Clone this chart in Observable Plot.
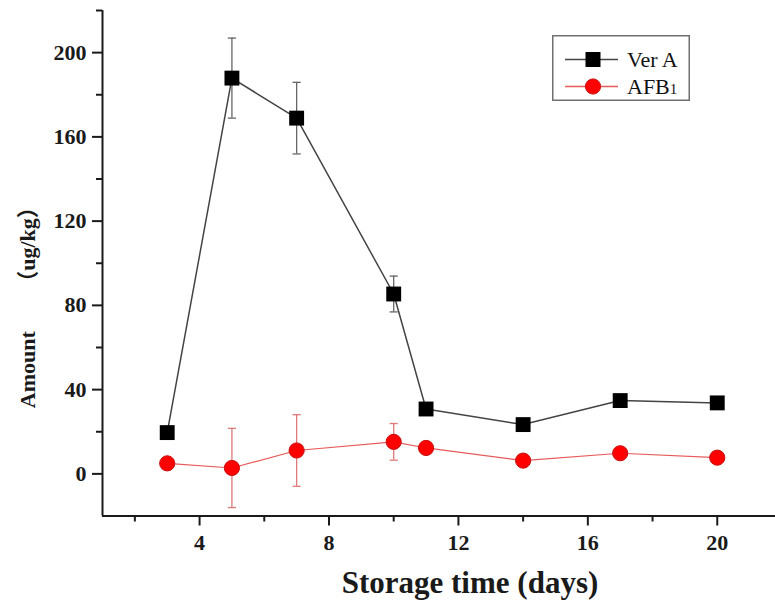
<!DOCTYPE html>
<html>
<head>
<meta charset="utf-8">
<script src="https://cdn.jsdelivr.net/npm/d3@7"></script>
<script src="https://cdn.jsdelivr.net/npm/@observablehq/plot@0.6"></script>
<style>
  body { margin: 0; background: #fff; }
  #wrap { position: relative; width: 775px; height: 605px; }
  #legend { position: absolute; left: 552px; top: 35px; }
</style>
</head>
<body>
<div id="wrap"></div>
<script>
// ---- data ----
const days = [3, 5, 7, 10, 11, 14, 17, 20];
const verA = [19.6, 187.9, 168.9, 85.4, 30.8, 23.4, 34.8, 33.7];
const verAErr = [0, 19, 17, 8.5, 0, 0, 0, 0];
const afb1 = [5.0, 2.8, 11.1, 15.2, 12.3, 6.3, 9.8, 7.7];
const afb1Err = [0, 18.8, 17, 8.7, 0, 0, 0, 0];
const seriesNames = ["Ver A", "AFB1"];
const xTicks = [4, 8, 12, 16, 20];
const xMinorTicks = [2, 6, 10, 14, 18];
const yTicks = [0, 40, 80, 120, 160, 200];
const yMinorTicks = [20, 60, 100, 140, 180, 220];
const xTitle = "Storage time (days)";
const yTitle = "Amount \u3000\u3000（ug/kg）";

// ---- build tables ----
const rowsA = days.map((d, i) => ({day: d, value: verA[i], err: verAErr[i]}));
const rowsB = days.map((d, i) => ({day: d, value: afb1[i], err: afb1Err[i]}));
const errA = rowsA.filter(r => r.err > 0);
const errB = rowsB.filter(r => r.err > 0);

const capSymbol = {
  draw(context, size) {
    const w = Math.sqrt(size);
    context.moveTo(-w, 0);
    context.lineTo(w, 0);
  }
};

const font = "'Liberation Serif', 'Times New Roman', 'Noto Sans CJK SC', serif";
const axisColor = "#1a1a1a";
const grayBar = "#666";
const redBar = "#e07878";

const chart = Plot.plot({
  width: 775,
  height: 605,
  marginLeft: 102,
  marginRight: 0,
  marginTop: 10,
  marginBottom: 89.5,
  x: {domain: [1, 21.8]},
  y: {domain: [-20, 220]},
  style: {fontFamily: font, background: "white", color: axisColor},
  marks: [
    // axes
    Plot.axisY(yTicks, {tickSize: 10, tickPadding: 6, strokeWidth: 2, fontSize: 22, fontWeight: "bold", label: null, tickFormat: d => String(d)}),
    Plot.axisY(yMinorTicks, {tickSize: 6, strokeWidth: 2, label: null, tickFormat: () => ""}),
    Plot.axisX(xTicks, {tickSize: 10, tickPadding: 8, strokeWidth: 2, fontSize: 22, fontWeight: "bold", label: null, tickFormat: d => String(d)}),
    Plot.axisX(xMinorTicks, {tickSize: 6, strokeWidth: 2, label: null, tickFormat: () => ""}),
    Plot.ruleX([1], {stroke: axisColor, strokeWidth: 2}),
    Plot.ruleY([-20], {stroke: axisColor, strokeWidth: 2}),
    // titles
    Plot.text([xTitle], {frameAnchor: "bottom", text: d => d, lineAnchor: "bottom", dy: 77, dx: 31, fontSize: 31, fontWeight: "bold", fill: axisColor}),
    Plot.text([yTitle], {frameAnchor: "left", text: d => d, rotate: -90, textAnchor: "start", dx: -75, dy: 145, lineAnchor: "middle", fontSize: 22, fontWeight: "bold", fill: axisColor}),
    // error bars
    Plot.ruleX(errA, {x: "day", y1: d => d.value - d.err, y2: d => d.value + d.err, stroke: grayBar, strokeWidth: 1.3}),
    Plot.dot(errA, {x: "day", y: d => d.value + d.err, symbol: capSymbol, r: 2.3, stroke: grayBar, strokeWidth: 1.3, fill: "none"}),
    Plot.dot(errA, {x: "day", y: d => d.value - d.err, symbol: capSymbol, r: 2.3, stroke: grayBar, strokeWidth: 1.3, fill: "none"}),
    Plot.ruleX(errB, {x: "day", y1: d => d.value - d.err, y2: d => d.value + d.err, stroke: redBar, strokeWidth: 1.3}),
    Plot.dot(errB, {x: "day", y: d => d.value + d.err, symbol: capSymbol, r: 2.3, stroke: redBar, strokeWidth: 1.3, fill: "none"}),
    Plot.dot(errB, {x: "day", y: d => d.value - d.err, symbol: capSymbol, r: 2.3, stroke: redBar, strokeWidth: 1.3, fill: "none"}),
    // lines
    Plot.line(rowsA, {x: "day", y: "value", stroke: "#444", strokeWidth: 1.5}),
    Plot.line(rowsB, {x: "day", y: "value", stroke: "#e85a5a", strokeWidth: 1.2}),
    // markers
    Plot.dot(rowsA, {x: "day", y: "value", symbol: "square", r: 8.4, fill: "#000", stroke: "none"}),
    Plot.dot(rowsB, {x: "day", y: "value", symbol: "circle", r: 7.6, fill: "#ff0000", stroke: "#c81010", strokeWidth: 1})
  ]
});
document.getElementById("wrap").appendChild(chart);

// ---- legend overlay ----
const legendItems = [
  {name: seriesNames[0], line: "#444", symbol: d3.symbolSquare, size: 15 * 15, fill: "#000", stroke: "none"},
  {name: seriesNames[1], line: "#e85a5a", symbol: d3.symbolCircle, size: Math.PI * 7.6 * 7.6, fill: "#ff0000", stroke: "#c81010"}
];
const lw = 138, lh = 66;
const leg = d3.create("svg").attr("id", "legend").attr("width", lw).attr("height", lh)
  .style("font-family", font);
leg.append("rect").attr("x", 0.75).attr("y", 0.75).attr("width", lw - 1.5).attr("height", lh - 1.5)
  .attr("fill", "white").attr("stroke", "#707070").attr("stroke-width", 1.5);
const rowY = [24.5, 51.5];
legendItems.forEach((it, i) => {
  const g = leg.append("g").attr("transform", `translate(0,${rowY[i]})`);
  g.append("line").attr("x1", 13).attr("x2", 66).attr("y1", 0).attr("y2", 0)
    .attr("stroke", it.line).attr("stroke-width", 1.4);
  g.append("path").attr("transform", "translate(41,0)")
    .attr("d", d3.symbol(it.symbol, it.size)())
    .attr("fill", it.fill).attr("stroke", it.stroke);
  const t = g.append("text").attr("x", 75).attr("y", 0).attr("dy", "0.34em")
    .attr("font-size", 22).attr("fill", "#111");
  const m = it.name.match(/^(.*?)(\d+)$/);
  if (m) {
    t.append("tspan").text(m[1]);
    t.append("tspan").attr("font-size", 15).text(m[2]);
  } else {
    t.text(it.name);
  }
});
document.getElementById("wrap").appendChild(leg.node());
</script>
</body>
</html>
